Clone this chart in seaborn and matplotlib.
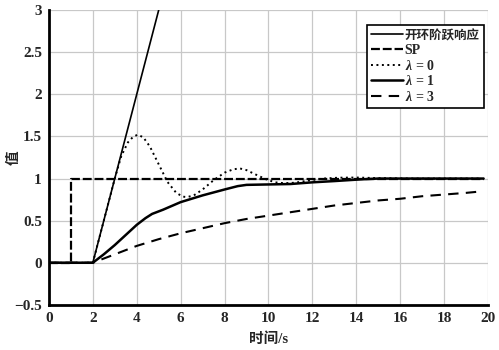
import numpy as np
import pandas as pd
import matplotlib
matplotlib.use("Agg")
import matplotlib.pyplot as plt
import seaborn as sns

# Open-loop step response (ramp starting after dead time)
t_open = [0, 2, 5.2]
y_open = [0, 0, 3.2]

# Set point
t_sp = [0, 1, 1, 19.8]
y_sp = [0, 0, 1, 1]

# lambda = 0
t_l0 = [0, 2, 2.5, 3.0, 3.3, 3.6, 3.85, 4.05, 4.3, 4.6, 5.0, 5.4, 5.8, 6.1, 6.3, 6.6, 7.0, 7.5, 8.0, 8.4, 8.7, 9.0, 9.4, 9.9, 10.3, 10.7, 11.2, 11.8, 12.5, 13.2, 14.0, 15.0, 16.5, 18.0, 19.6]
y_l0 = [0, 0, 0.5, 1.0, 1.27, 1.43, 1.5, 1.52, 1.49, 1.38, 1.17, 0.96, 0.83, 0.785, 0.78, 0.8, 0.87, 0.98, 1.07, 1.11, 1.12, 1.1, 1.05, 0.99, 0.955, 0.945, 0.95, 0.975, 1.0, 1.01, 1.012, 1.005, 1.0, 1.0, 1.0]

# lambda = 1
t_l1 = [0, 2, 2.5, 3.0, 3.5, 4.0, 4.4, 4.7, 5.2, 6.0, 7.0, 8.0, 8.6, 9.0, 10.0, 11.0, 12.0, 13.0, 13.6, 14.2, 15.0, 17.0, 19.8]
y_l1 = [0, 0, 0.1, 0.21, 0.33, 0.45, 0.53, 0.58, 0.63, 0.72, 0.8, 0.87, 0.91, 0.925, 0.93, 0.935, 0.955, 0.97, 0.98, 0.99, 1.0, 1.0, 1.0]

# lambda = 3
t_l3 = [0, 2, 3, 4, 5, 6, 7, 8, 9, 10, 11, 12, 13, 14, 15, 16, 17, 18, 19, 19.6]
y_l3 = [0, 0, 0.1, 0.2, 0.28, 0.35, 0.41, 0.47, 0.52, 0.56, 0.6, 0.64, 0.68, 0.71, 0.74, 0.76, 0.79, 0.81, 0.83, 0.845]

x_ticks = list(range(0, 21, 2))
y_ticks = [-0.5, 0, 0.5, 1, 1.5, 2, 2.5, 3]
y_tick_labels = ["\u22120.5", "0", "0.5", "1", "1.5", "2", "2.5", "3"]

sns.set_style("whitegrid")
plt.rcParams["font.family"] = ["Liberation Serif", "Noto Sans CJK SC"]
plt.rcParams["font.weight"] = "bold"
plt.rcParams["mathtext.fontset"] = "custom"
plt.rcParams["mathtext.rm"] = "Liberation Serif:bold"
plt.rcParams["mathtext.it"] = "Liberation Serif:italic:bold"
plt.rcParams["mathtext.bf"] = "Liberation Serif:bold"

fig = plt.figure(figsize=(4.99, 3.5), dpi=100)
ax = fig.add_axes([0.098, 0.129, 0.88, 0.842])

series = [
    ("开环阶跃响应", t_open, y_open, dict(lw=1.2, ls="-")),
    ("SP", t_sp, y_sp, dict(lw=1.6, dashes=(4, 1.3))),
    (r"$\mathit{\lambda}$ = 0", t_l0, y_l0, dict(lw=1.4, ls=(0, (1, 1.8)))),
    (r"$\mathit{\lambda}$ = 1", t_l1, y_l1, dict(lw=1.8, ls="-")),
    (r"$\mathit{\lambda}$ = 3", t_l3, y_l3, dict(lw=1.5, dashes=(5, 3.5))),
]

for name, t, y, style in series:
    df = pd.DataFrame({"t": t, "y": y})
    sns.lineplot(data=df, x="t", y="y", ax=ax, color="black", label=name,
                 sort=False, estimator=None, **style)

ax.set_xlim(0, 20)
ax.set_ylim(-0.5, 3)
ax.set_xticks(x_ticks)
ax.set_yticks(y_ticks)
ax.set_yticklabels(y_tick_labels)
ax.tick_params(axis="both", labelsize=11, direction="in", length=3, width=1,
               color="black", pad=5)
for lbl in ax.get_xticklabels() + ax.get_yticklabels():
    lbl.set_fontweight("bold")

ax.grid(True, color="#c8c8c8", lw=0.9)
for side in ("top", "right"):
    ax.spines[side].set_visible(False)
for side in ("left", "bottom"):
    ax.spines[side].set_color("black")
    ax.spines[side].set_linewidth(2.0)

ax.set_xlabel("时间/s", fontsize=10.5, fontweight="bold")
ax.set_ylabel("值", fontsize=10.5, fontweight="bold")
ax.yaxis.set_label_coords(-0.064, 0.5)
ax.xaxis.set_label_coords(0.5, -0.093)

leg = ax.legend(loc="upper right", bbox_to_anchor=(0.997, 0.958), fontsize=10,
                frameon=True, fancybox=False, handlelength=2.3,
                handletextpad=0.15, borderpad=0.3, labelspacing=0.12,
                borderaxespad=0.2)
leg.get_frame().set_edgecolor("black")
leg.get_frame().set_linewidth(1.2)
leg.get_frame().set_alpha(1)
for i, txt in enumerate(leg.get_texts()):
    txt.set_fontweight("bold")
    if i == 0:
        txt.set_fontsize(9)

fig.savefig("out.png", dpi=100, facecolor="white")
